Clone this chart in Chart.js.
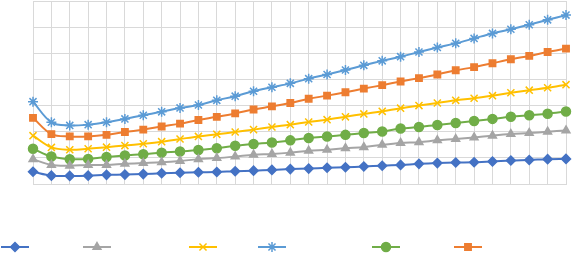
<!DOCTYPE html>
<html>
<head>
<meta charset="utf-8">
<script src="https://cdn.jsdelivr.net/npm/chart.js@4/dist/chart.umd.min.js"></script>
<style>
html, body { margin: 0; padding: 0; background: #fff; }
#wrap { width: 572px; height: 253px; }
</style>
</head>
<body>
<div id="wrap"><canvas id="chartLine" width="572" height="253"></canvas></div>
<script>
/* data (y axis 0..70) */
var labels = ['1', '2', '3', '4', '5', '6', '7', '8', '9', '10',
              '11', '12', '13', '14', '15', '16', '17', '18', '19', '20',
              '21', '22', '23', '24', '25', '26', '27', '28', '29', '30'];
var yTicks = [0, 10, 20, 30, 40, 50, 60, 70];
var seriesNames = ['Series1', 'Series2', 'Series3', 'Series4', 'Series5', 'Series6'];

var darkBlue = [4.7, 3.2, 3.1, 3.2, 3.5, 3.6, 3.8, 4.1, 4.3, 4.5, 4.6, 4.9, 5.1, 5.4, 5.7, 5.9, 6.2, 6.4, 6.7, 7.0, 7.3, 7.7, 8.0, 8.2, 8.3, 8.6, 9.0, 9.2, 9.5, 9.6];
var gray = [9.5, 7.3, 7.0, 7.3, 7.3, 7.7, 8.0, 8.3, 8.8, 9.5, 9.9, 10.5, 11.2, 11.5, 12.0, 12.7, 13.1, 13.7, 14.1, 15.0, 15.7, 16.0, 16.7, 17.2, 17.8, 18.5, 19.1, 19.5, 20.0, 20.5];
var yellow = [18.5, 14.0, 13.1, 13.5, 14.1, 14.7, 15.4, 16.2, 17.2, 18.2, 19.0, 19.9, 20.8, 21.8, 22.7, 23.7, 24.6, 25.7, 26.8, 27.8, 29.0, 30.0, 31.0, 32.0, 32.8, 33.8, 34.9, 35.9, 36.8, 38.0];
var lightBlue = [31.5, 23.6, 22.4, 22.7, 23.6, 24.9, 26.3, 27.6, 29.1, 30.2, 32.0, 33.6, 35.5, 37.0, 38.5, 40.3, 41.9, 43.6, 45.4, 47.1, 48.7, 50.5, 52.2, 53.8, 55.7, 57.6, 59.2, 60.9, 62.8, 64.6];
var green = [13.5, 10.5, 9.5, 9.6, 10.3, 10.9, 11.4, 12.0, 12.4, 13.0, 13.7, 14.6, 15.3, 15.9, 16.7, 17.6, 18.2, 18.8, 19.5, 20.1, 21.2, 21.8, 22.6, 23.3, 24.1, 24.9, 25.7, 26.3, 26.9, 27.7];
var orange = [25.3, 19.1, 18.2, 18.2, 18.8, 19.9, 20.8, 22.0, 23.1, 24.5, 25.7, 27.0, 28.5, 29.7, 31.0, 32.6, 33.8, 35.1, 36.5, 37.8, 39.2, 40.5, 41.9, 43.5, 44.7, 46.2, 47.7, 49.0, 50.5, 51.8];

var colors = ['#4472C4', '#A5A5A5', '#FFC000', '#5B9BD5', '#70AD47', '#ED7D31'];
var styles = ['rectRot', 'triangle', 'crossRot', 'star', 'circle', 'rect'];
var radii = [4.5, 4.5, 5, 5, 4.5, 4.5];
var values = [darkBlue, gray, yellow, lightBlue, green, orange];
// legend entries are not evenly spaced in the picture: shift of each sample inside its slot
var legendShift = [-28, -37, -22, -44, -21, -30];

// legend sample: short line with the marker on it (no text in the picture)
function legendGlyph(color, style, radius, shift) {
    var c = document.createElement('canvas');
    c.width = 140; c.height = 32;
    var ctx = c.getContext('2d');
    var cx = 70 + shift;
    ctx.strokeStyle = color;
    ctx.fillStyle = color;
    ctx.lineWidth = 2;
    ctx.beginPath(); ctx.moveTo(cx - 14, 26); ctx.lineTo(cx + 14, 26); ctx.stroke();
    ctx.lineWidth = 1.5;
    Chart.helpers.drawPoint(ctx, {pointStyle: style, radius: radius, rotation: 0, borderWidth: 1.5}, cx, 26);
    return c;
}

var datasets = values.map(function (v, i) {
    return {
        label: seriesNames[i],
        data: v,
        borderColor: colors[i],
        backgroundColor: colors[i],
        borderWidth: 2,
        pointStyle: styles[i],
        pointRadius: radii[i],
        pointBorderWidth: 1.5,
        tension: 0.35,
        fill: false
    };
});

var chartLine = document.getElementById('chartLine').getContext('2d');
new Chart(chartLine, {
    type: 'line',
    data: { labels: labels, datasets: datasets },
    options: {
        responsive: false,
        animation: false,
        layout: { autoPadding: false, padding: { top: 1, right: 6, left: 0, bottom: 0 } },
        plugins: {
            tooltip: { enabled: false },
            legend: {
                position: 'bottom',
                align: 'start',
                labels: {
                    usePointStyle: true,
                    pointStyleWidth: 84,
                    padding: 1,
                    font: { size: 12 },
                    generateLabels: function (chart) {
                        return chart.data.datasets.map(function (ds, i) {
                            return {
                                text: '',
                                fillStyle: colors[i],
                                strokeStyle: colors[i],
                                lineWidth: 0,
                                pointStyle: legendGlyph(colors[i], styles[i], radii[i], legendShift[i]),
                                hidden: false,
                                datasetIndex: i
                            };
                        });
                    }
                }
            }
        },
        scales: {
            x: {
                grid: { color: '#D9D9D9', drawTicks: false },
                border: { color: '#D9D9D9' },
                ticks: { display: false },
                afterFit: function (s) { s.height = 46; }
            },
            y: {
                min: yTicks[0],
                max: yTicks[yTicks.length - 1],
                ticks: { display: false, stepSize: 10 },
                grid: { color: '#D9D9D9', drawTicks: false },
                border: { color: '#D9D9D9' },
                afterFit: function (s) { s.width = 33; }
            }
        }
    }
});
</script>
</body>
</html>
